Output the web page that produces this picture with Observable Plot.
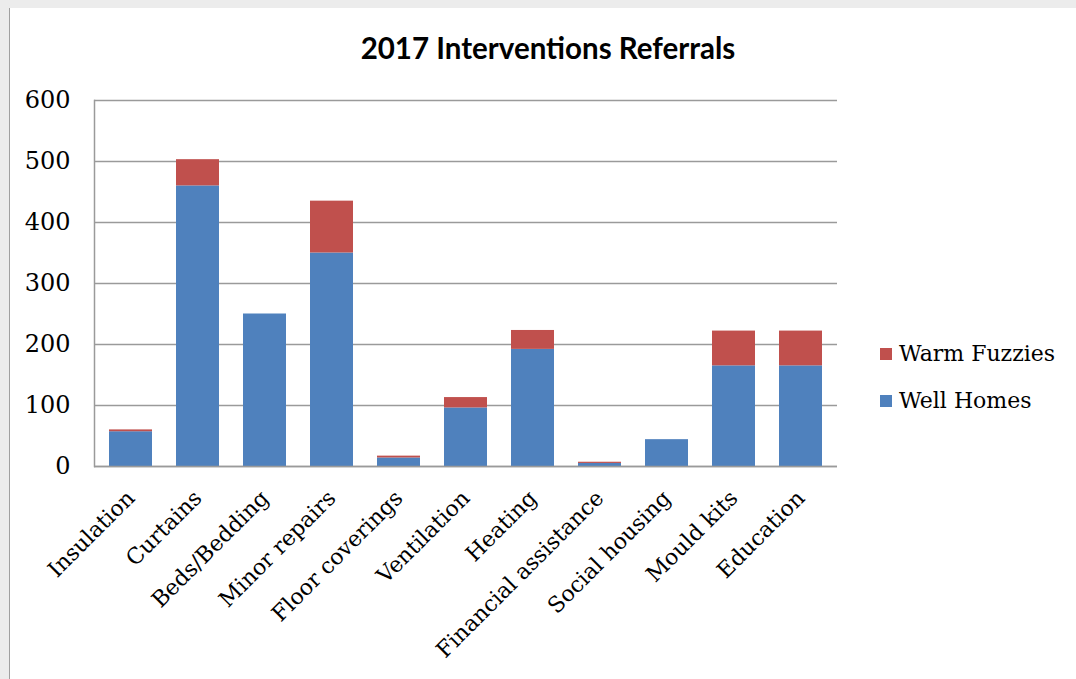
<!DOCTYPE html>
<html><head><meta charset="utf-8">
<script src="https://cdn.jsdelivr.net/npm/d3@7"></script>
<script src="https://cdn.jsdelivr.net/npm/@observablehq/plot@0.6"></script>
<style>
body{margin:0;background:#ececec;width:1076px;height:679px;overflow:hidden;position:relative;}
#frame{position:absolute;left:9px;top:8px;width:1067px;height:671px;background:#fff;border-left:1px solid #a0a0a0;}
#title{position:absolute;left:0;width:1096px;top:33px;text-align:center;font:bold 29.5px Lato, "Open Sans", sans-serif;color:#000;line-height:1;}
#chart{position:absolute;left:10px;top:80px;}
.leg{position:absolute;left:880px;font:22px "DejaVu Serif", serif;color:#000;line-height:1;display:flex;align-items:center;}
.leg span.sw{display:inline-block;width:12px;height:12px;margin-right:7px;}
</style></head>
<body>
<div id="frame"></div>
<div id="title">2017 Interventions Referrals</div>
<div id="chart"></div>
<div class="leg" style="top:343px"><span class="sw" style="background:#c0504d"></span>Warm Fuzzies</div>
<div class="leg" style="top:390px"><span class="sw" style="background:#4f81bd"></span>Well Homes</div>
<script>
const categories = ["Insulation","Curtains","Beds/Bedding","Minor repairs","Floor coverings","Ventilation","Heating","Financial assistance","Social housing","Mould kits","Education"];
const wellHomes = [57, 460, 250, 350, 14, 96, 192, 5, 44, 165, 165];
const warmFuzzies = [3, 43, 0, 85, 3, 17, 31, 2, 0, 57, 57];
const seriesNames = ["Well Homes", "Warm Fuzzies"];
const seriesColors = ["#4f81bd", "#c0504d"];
const yTicks = [0, 100, 200, 300, 400, 500, 600];

const data = [];
categories.forEach((c, i) => {
  data.push({cat: c, series: seriesNames[0], value: wellHomes[i]});
  data.push({cat: c, series: seriesNames[1], value: warmFuzzies[i]});
});

const chart = Plot.plot({
  width: 1066,
  height: 599,
  marginLeft: 84,
  marginTop: 20,
  marginRight: 239,
  marginBottom: 213,
  style: {fontFamily: "'DejaVu Serif', serif", color: "#000", background: "transparent"},
  x: {domain: categories, paddingInner: 0.36, paddingOuter: 0.18, label: null},
  y: {domain: [0, 600], label: null},
  color: {domain: seriesNames, range: seriesColors},
  marks: [
    Plot.gridY(yTicks, {stroke: "#9a9a9a", strokeOpacity: 1, strokeWidth: 1.5}),
    Plot.barY(data, {x: "cat", y: "value", fill: "series", order: seriesNames}),
    Plot.ruleY([0], {stroke: "#9a9a9a", strokeWidth: 1.5}),
    Plot.frame({anchor: "left", stroke: "#9a9a9a", strokeWidth: 1.5}),
    Plot.axisY(yTicks, {tickSize: 0, tickPadding: 24, fontSize: 24, label: null}),
    Plot.axisX({tickSize: 0, tickPadding: 28, tickRotate: -45, fontSize: 22, label: null})
  ]
});
document.getElementById("chart").appendChild(chart);
</script>
</body></html>
